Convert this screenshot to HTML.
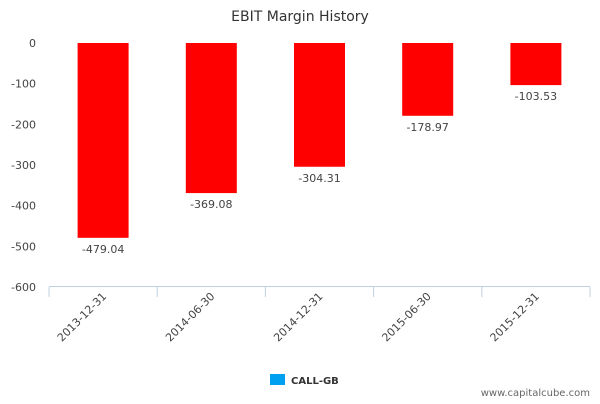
<!DOCTYPE html>
<html><head><meta charset="utf-8"><style>
body{margin:0;background:#fff;font-family:"DejaVu Sans","Liberation Sans",sans-serif}
</style></head><body>
<svg width="600" height="400" xmlns="http://www.w3.org/2000/svg">
<text x="300" y="21" text-anchor="middle" font-size="14" fill="#333">EBIT Margin History</text>
<g id="yaxis"></g>
<g id="bars"></g>
<g id="xaxis"></g>
<rect x="270" y="374" width="15" height="11" fill="#00a0f0"/>
<text x="291" y="384" font-size="10" font-weight="bold" fill="#333">CALL-GB</text>
<text x="590" y="396" text-anchor="end" font-size="10" fill="#666">www.capitalcube.com</text>
</svg>
<script>
const categories=["2013-12-31","2014-06-30","2014-12-31","2015-06-30","2015-12-31"];
const values=[-479.04,-369.08,-304.31,-178.97,-103.53];
const valueLabels=["-479.04","-369.08","-304.31","-178.97","-103.53"];
const yTicks=[0,-100,-200,-300,-400,-500,-600];
const NS="http://www.w3.org/2000/svg";
const x0=49,x1=590,yTop=43,yBot=287;
const y=v=>yTop+(0-v)/600*(yBot-yTop);
const bw=(x1-x0)/categories.length;
const xc=i=>x0+bw*(i+0.5);
function mk(t,a,p){const e=document.createElementNS(NS,t);for(const k in a)e.setAttribute(k,a[k]);p.appendChild(e);return e;}
const ya=document.getElementById('yaxis'),ba=document.getElementById('bars'),xa=document.getElementById('xaxis');
yTicks.forEach(t=>{const e=mk('text',{x:36,y:y(t)+4,'text-anchor':'end','font-size':11,fill:'#444'},ya);e.textContent=t;

});
values.forEach((v,i)=>{
const r=mk('rect',{x:xc(i)-25.5,y:y(0),width:51,height:y(v)-y(0),fill:'#ff0000'},ba);


const t=mk('text',{x:xc(i),y:y(v)+15,'text-anchor':'middle','font-size':11,fill:'#444'},ba);t.textContent=valueLabels[i];


});
const ax=mk('line',{x1:x0,y1:yBot-0.5,x2:x1,y2:yBot-0.5,stroke:'#c0d0e0'},xa);


for(let i=0;i<=categories.length;i++){const l=mk('line',{x1:x0+bw*i,y1:yBot,x2:x0+bw*i,y2:yBot+10,stroke:'#c0d0e0'},xa);

}
categories.forEach((c,i)=>{const tx=xc(i)+4,ty=yBot+10;
const t=mk('text',{x:tx,y:ty,'text-anchor':'end','font-size':11,fill:'#444',transform:`rotate(-45 ${tx} ${ty})`},xa);t.textContent=c;

});
</script>
</body></html>
